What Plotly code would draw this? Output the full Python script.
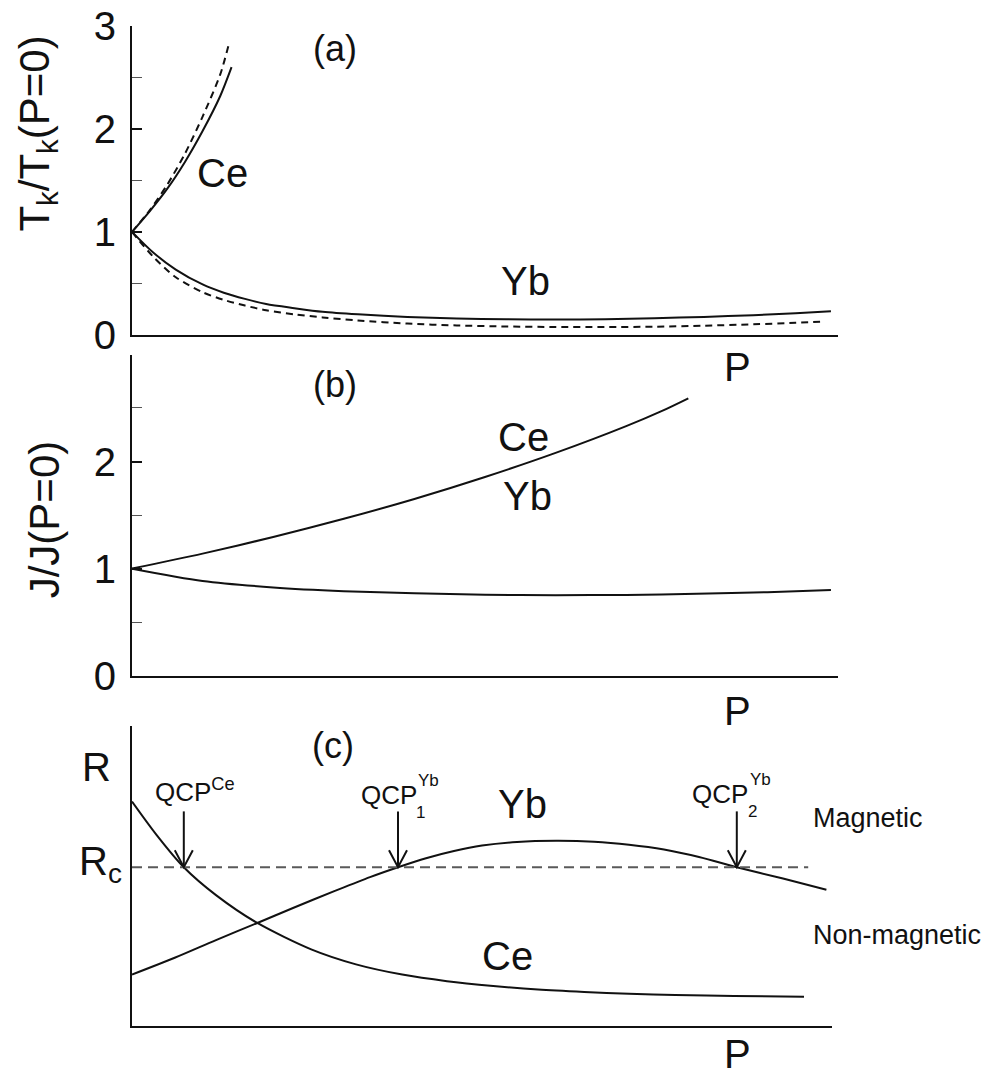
import plotly.graph_objects as go

W, H = 995, 1079

# ---------------- data ----------------
# Panel (a): T_K / T_K(P=0) vs P
P_a_ce = [0, 0.25, 0.5, 0.75, 1.0, 1.25, 1.41]
Tk_ce = [1.0, 1.2, 1.42, 1.68, 1.98, 2.32, 2.60]
P_a_ce_d = [0, 0.25, 0.5, 0.75, 1.0, 1.25, 1.37]
Tk_ce_d = [1.0, 1.21, 1.46, 1.76, 2.12, 2.53, 2.82]
P_a_yb = [0, 0.3, 0.62, 1.0, 1.3, 1.6, 1.9, 2.3, 2.7, 3.2, 3.9, 4.6, 5.3, 6.0, 6.7, 7.4, 8.1, 8.8, 9.4, 9.9]
Tk_yb = [1.0, 0.80, 0.635, 0.49, 0.41, 0.35, 0.30, 0.26, 0.225, 0.20, 0.175, 0.16, 0.152, 0.15, 0.153,
         0.162, 0.175, 0.192, 0.21, 0.23]
P_a_yb_d = [0, 0.3, 0.62, 1.0, 1.3, 1.6, 1.9, 2.3, 2.7, 3.2, 3.9, 4.6, 5.3, 6.0, 6.7, 7.4, 8.1, 8.8, 9.4, 9.8]
Tk_yb_d = [1.0, 0.76, 0.56, 0.415, 0.34, 0.285, 0.24, 0.2, 0.17, 0.14, 0.11, 0.092, 0.082, 0.077, 0.076,
           0.08, 0.09, 0.103, 0.118, 0.13]

# Panel (b): J / J(P=0) vs P
P_b_ce = [0, 1, 2, 3, 4, 5, 6, 7, 7.5, 7.88]
J_ce = [1.0, 1.14, 1.295, 1.465, 1.65, 1.855, 2.08, 2.33, 2.47, 2.59]
P_b_yb = [0, 1, 2, 3, 4, 5, 6, 7, 8, 9, 9.9]
J_yb = [1.0, 0.885, 0.825, 0.79, 0.77, 0.757, 0.752, 0.755, 0.765, 0.78, 0.80]

# Panel (c): R vs P (arbitrary units)
P_c_ce = [0, 0.35, 0.74, 1.2, 1.79, 2.56, 3.2, 3.86, 4.5, 5.16, 5.8, 6.46, 7.1, 7.76, 8.6, 9.6]
R_ce = [0.747, 0.636, 0.528, 0.435, 0.342, 0.254, 0.204, 0.17, 0.148, 0.132, 0.12, 0.112, 0.106, 0.102,
        0.099, 0.096]
P_c_yb = [0, 0.61, 1.2, 1.79, 2.3, 2.89, 3.4, 3.8, 4.2, 4.6, 5.0, 5.5, 6.06, 6.6, 7.1, 7.6, 8.1, 8.64,
          9.3, 9.92]
R_yb = [0.17, 0.226, 0.285, 0.342, 0.392, 0.448, 0.495, 0.528, 0.558, 0.582, 0.600, 0.612, 0.616, 0.613,
        0.603, 0.587, 0.562, 0.528, 0.49, 0.453]
Rc = 0.528
Rc_P = [0, 9.66]
QCP_P = [0.74, 3.8, 8.64]
arrow_top = 0.714

ticks_a = [0, 1, 2, 3]
ticks_b = [0, 1, 2]

FONT = "Liberation Sans, Arial, sans-serif"
BLK = "#111111"


def Y(y):
    # compensate for the vertical scaling seen in the rendered page
    return (y - 21) / 0.9625


def px(x):
    return x / W


def py(y):
    return 1 - Y(y) / H


fig = go.Figure()

line_solid = dict(color=BLK, width=2, shape="spline", smoothing=0.8)
line_dash = dict(color=BLK, width=2, shape="spline", smoothing=0.8, dash="7px,5px")

# panel a
fig.add_trace(go.Scatter(x=P_a_ce, y=Tk_ce, mode="lines", line=line_solid, xaxis="x", yaxis="y"))
fig.add_trace(go.Scatter(x=P_a_ce_d, y=Tk_ce_d, mode="lines", line=line_dash, xaxis="x", yaxis="y"))
fig.add_trace(go.Scatter(x=P_a_yb, y=Tk_yb, mode="lines", line=line_solid, xaxis="x", yaxis="y"))
fig.add_trace(go.Scatter(x=P_a_yb_d, y=Tk_yb_d, mode="lines", line=line_dash, xaxis="x", yaxis="y"))
# panel b
fig.add_trace(go.Scatter(x=P_b_ce, y=J_ce, mode="lines", line=line_solid, xaxis="x2", yaxis="y2"))
fig.add_trace(go.Scatter(x=P_b_yb, y=J_yb, mode="lines", line=line_solid, xaxis="x2", yaxis="y2"))
# panel c
fig.add_trace(go.Scatter(x=P_c_ce, y=R_ce, mode="lines", line=line_solid, xaxis="x3", yaxis="y3"))
fig.add_trace(go.Scatter(x=P_c_yb, y=R_yb, mode="lines", line=line_solid, xaxis="x3", yaxis="y3"))
fig.add_trace(go.Scatter(x=Rc_P, y=[Rc, Rc], mode="lines",
                         line=dict(color="#5a5a5a", width=2, dash="10px,6px"), xaxis="x3", yaxis="y3"))

# arrows (shaft + open chevron) at the QCP crossings
chev_dx = 9 / 70.0
chev_dy = 17 / 301.0
for q in QCP_P:
    fig.add_shape(type="line", xref="x3", yref="y3", x0=q, x1=q, y0=arrow_top, y1=Rc,
                  line=dict(color=BLK, width=2))
    fig.add_shape(type="path", xref="x3", yref="y3",
                  path=f"M {q - chev_dx},{Rc + chev_dy} L {q},{Rc} L {q + chev_dx},{Rc + chev_dy}",
                  line=dict(color=BLK, width=2))

axis_common = dict(showline=True, linecolor=BLK, linewidth=2, showgrid=False, zeroline=False)
ytick_common = dict(ticks="inside", ticklen=10, tickwidth=1.5, tickcolor=BLK,
                    minor=dict(dtick=0.5, tick0=0, ticks="inside", ticklen=10, tickwidth=1,
                               tickcolor="#555555"),
                    tickfont=dict(size=40, family=FONT, color=BLK), ticklabelstandoff=6,
                    ticklabeloverflow="allow")

b_top = 355
fig.update_layout(
    width=W, height=H,
    margin=dict(l=0, r=0, t=0, b=0),
    paper_bgcolor="white", plot_bgcolor="white",
    showlegend=False,
    font=dict(family=FONT, color=BLK),
    xaxis=dict(domain=[px(132), px(838)], range=[0, 10], anchor="y", showticklabels=False, ticks="",
               **axis_common),
    yaxis=dict(domain=[py(335), py(25)], range=[0, 3], anchor="x", tickvals=ticks_a,
               **ytick_common, **axis_common),
    xaxis2=dict(domain=[px(132), px(838)], range=[0, 10], anchor="y2", showticklabels=False, ticks="",
                **axis_common),
    yaxis2=dict(domain=[py(677), py(b_top)], range=[0, (677 - b_top) / 107.5], anchor="x2",
                tickvals=ticks_b, **ytick_common, **axis_common),
    xaxis3=dict(domain=[px(132), px(832)], range=[0, 10], anchor="y3", showticklabels=False, ticks="",
                **axis_common),
    yaxis3=dict(domain=[py(1028), py(727)], range=[0, 1], anchor="x3", showticklabels=False, ticks="",
                **axis_common),
)


def text(x, y, s, size, xanchor="center", angle=0):
    fig.add_annotation(x=px(x), y=py(y), xref="paper", yref="paper", text=s, showarrow=False,
                       xanchor=xanchor, yanchor="middle", textangle=angle, borderpad=0,
                       font=dict(size=size, family=FONT, color=BLK))


# axis titles
text(38, 133, "T<sub>k</sub>/T<sub>k</sub>(P=0)", 42, angle=-90)
text(44, 520, "J/J(P=0)", 42, angle=-90)
text(96, 769, "R", 40)
text(100, 866, "R<sub>c</sub>", 40)
# P labels
for yy in (367, 712, 1057):
    text(737, yy, "P", 40)
# panel labels
text(335, 48, "(a)", 36)
text(335, 385, "(b)", 36)
text(333, 747, "(c)", 36)
# curve labels
text(222, 173, "Ce", 40)
text(525, 281, "Yb", 40)
text(523, 437, "Ce", 40)
text(527, 497, "Yb", 40)
text(522, 806, "Yb", 40)
text(508, 958, "Ce", 40)
# QCP labels
text(195, 792, "QCP<sup>Ce</sup>", 26)
text(418, 797, "QCP", 26, xanchor="right")
text(417, 782, "Yb", 17, xanchor="left")
text(415, 814, "1", 17, xanchor="left")
text(749, 796, "QCP", 26, xanchor="right")
text(749, 781, "Yb", 17, xanchor="left")
text(747, 813, "2", 17, xanchor="left")
# phase labels
text(812, 820, "Magnetic", 27, xanchor="left")
text(812, 937, "Non-magnetic", 27, xanchor="left")

fig.write_html("out.html")
